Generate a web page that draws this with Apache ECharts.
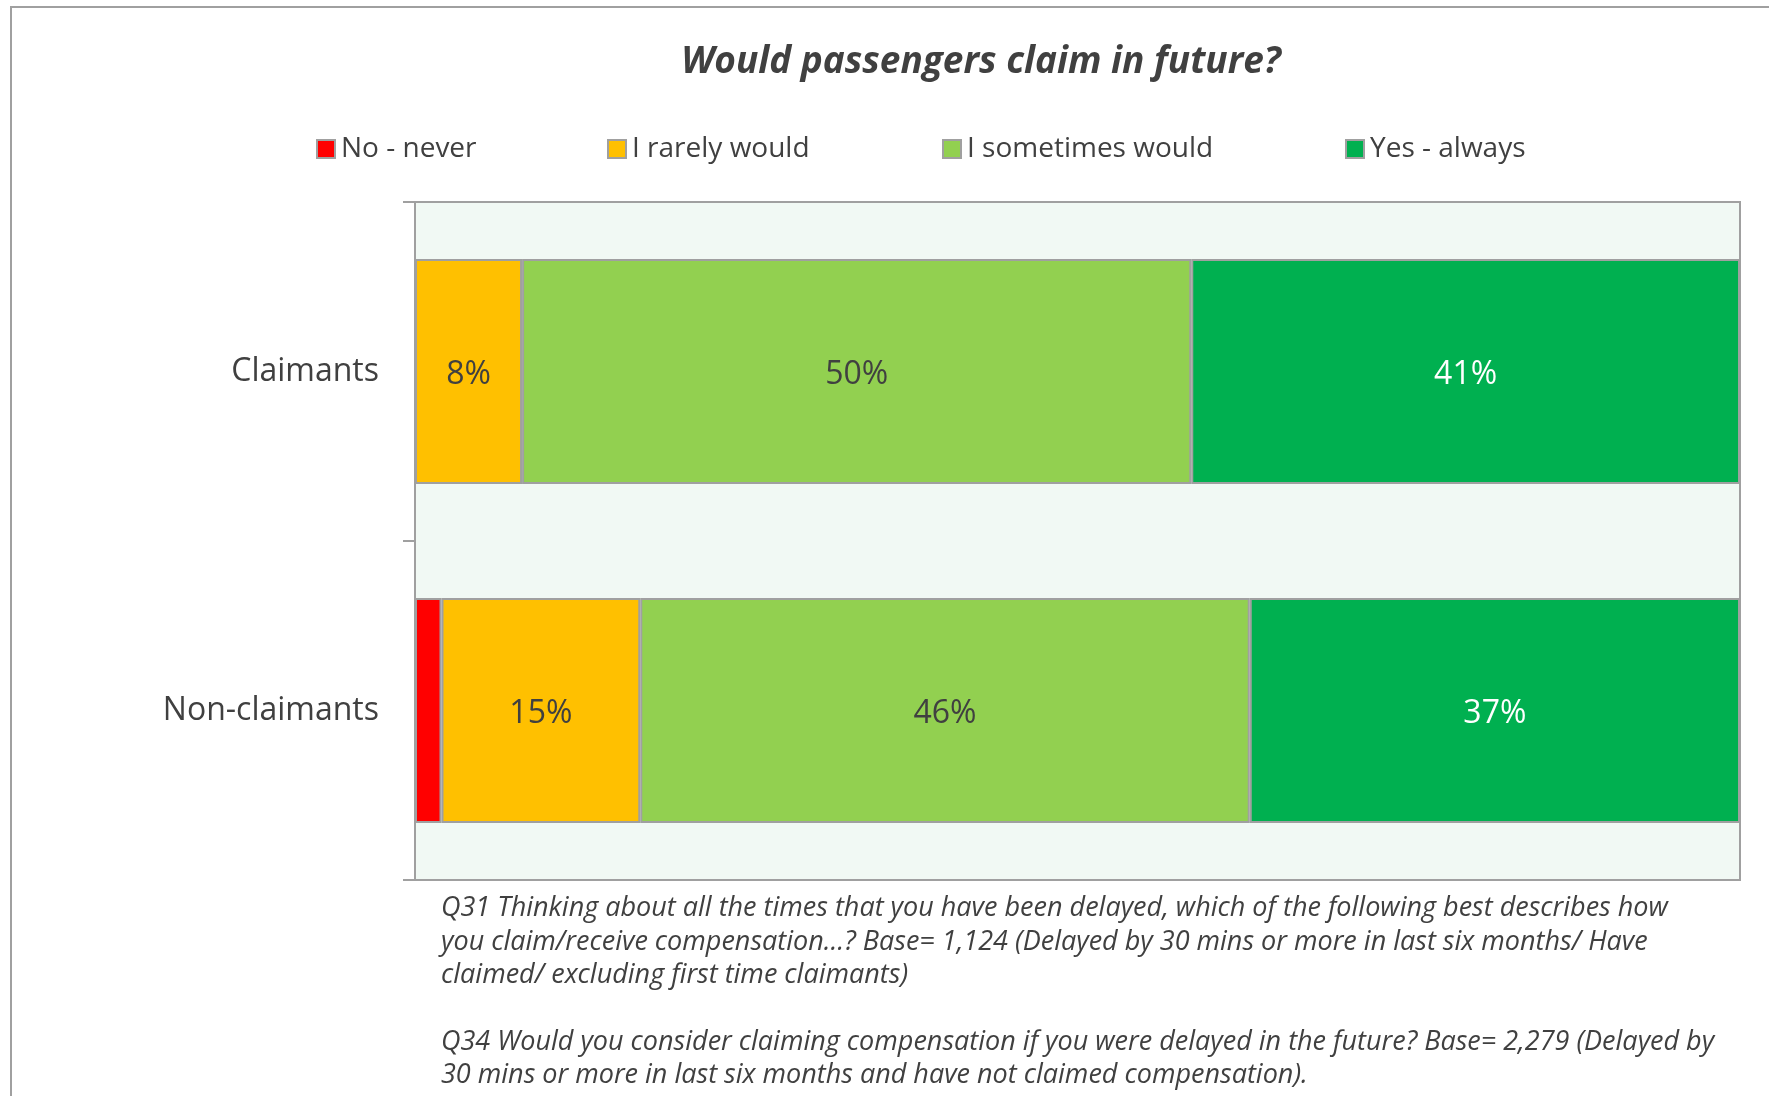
<!DOCTYPE html>
<html>
<head>
<meta charset="utf-8">
<script src="https://cdn.jsdelivr.net/npm/echarts@6/dist/echarts.min.js"></script>
<style>
  html, body { margin: 0; padding: 0; background: #ffffff; }
  #chart { width: 1769px; height: 1096px; }
</style>
</head>
<body>
<div id="chart"></div>
<script>
// Survey answers, percent of each group
const categories = ['Claimants', 'Non-claimants'];
const seriesNames = ['No - never', 'I rarely would', 'I sometimes would', 'Yes - always'];
const noNever = [0, 2];
const rarely = [8, 15];
const sometimes = [50, 46];
const always = [41, 37];
const seriesColors = ['#FF0000', '#FFC000', '#92D050', '#00B050'];
const labelColors = [null, '#404040', '#404040', '#FFFFFF'];
const footnote = [
  'Q31 Thinking about all the times that you have been delayed, which of the following best describes how',
  'you claim/receive compensation\u2026? Base= 1,124 (Delayed by 30 mins or more in last six months/ Have',
  'claimed/ excluding first time claimants)',
  '',
  'Q34 Would you consider claiming compensation if you were delayed in the future? Base= 2,279 (Delayed by',
  '30 mins or more in last six months and have not claimed compensation).'
];

const FONT = '"Open Sans", "Noto Sans", sans-serif';
const rows = [noNever, rarely, sometimes, always];
// 100% stacked: each bar is scaled to its group's total
const totals = categories.map((_, i) => rows.reduce((s, r) => s + r[i], 0));

const series = rows.map((vals, k) => ({
  name: seriesNames[k],
  type: 'bar',
  stack: 'all',
  barCategoryGap: '33.6%',
  itemStyle: { color: seriesColors[k], borderColor: '#A0A0A0', borderWidth: 2 },
  label: {
    show: labelColors[k] !== null,
    position: 'inside',
    offset: [0, 3],
    fontFamily: FONT,
    fontSize: 32,
    color: labelColors[k] || '#404040',
    formatter: p => p.data.raw + '%'
  },
  emphasis: { disabled: true },
  data: vals.map((v, i) => v === 0 ? { value: '-', raw: v } : { value: v / totals[i] * 100, raw: v })
}));

const legendLefts = [311, 602, 937, 1340];
const legends = seriesNames.map((n, k) => ({
  data: [n],
  left: legendLefts[k],
  top: 130,
  itemWidth: 18,
  itemHeight: 18,
  itemGap: 8,
  icon: 'rect',
  selectedMode: false,
  textStyle: { fontFamily: FONT, fontSize: 28, color: '#404040', padding: [0, 0, 0, 1] }
}));

const chart = echarts.init(document.getElementById('chart'), null, { renderer: 'canvas' });
chart.setOption({
  animation: false,
  backgroundColor: '#ffffff',
  legend: legends,
  grid: {
    left: 415, right: 29, top: 202, bottom: 216,
    show: true,
    backgroundColor: '#F1F9F4',
    borderColor: '#A0A0A0',
    borderWidth: 2
  },
  xAxis: {
    type: 'value', min: 0, max: 100,
    show: false,
    splitLine: { show: false }
  },
  yAxis: {
    type: 'category',
    data: categories,
    inverse: true,
    axisLine: { show: true, lineStyle: { color: '#A0A0A0', width: 2 } },
    axisTick: { show: true, length: 12, lineStyle: { color: '#A0A0A0', width: 2 } },
    axisLabel: { fontFamily: FONT, fontSize: 32, color: '#404040', margin: 36, padding: [5, 0, 0, 0] }
  },
  series: series,
  graphic: [
    {
      type: 'polyline',
      silent: true,
      shape: { points: [[11, 1096], [11, 7], [1769, 7]] },
      style: { stroke: '#A0A0A0', lineWidth: 2, fill: null }
    },
    {
      type: 'text',
      silent: true,
      style: {
        text: 'Would passengers claim in future?',
        x: 981, y: 62,
        align: 'center', verticalAlign: 'middle',
        font: 'italic bold 37px ' + FONT,
        fill: '#404040'
      }
    },
    {
      type: 'text',
      silent: true,
      style: {
        text: footnote.join('\n'),
        x: 441, y: 892,
        align: 'left', verticalAlign: 'top',
        font: 'italic 27px ' + FONT,
        lineHeight: 33.3,
        fill: '#404040'
      }
    }
  ]
});
</script>
</body>
</html>
